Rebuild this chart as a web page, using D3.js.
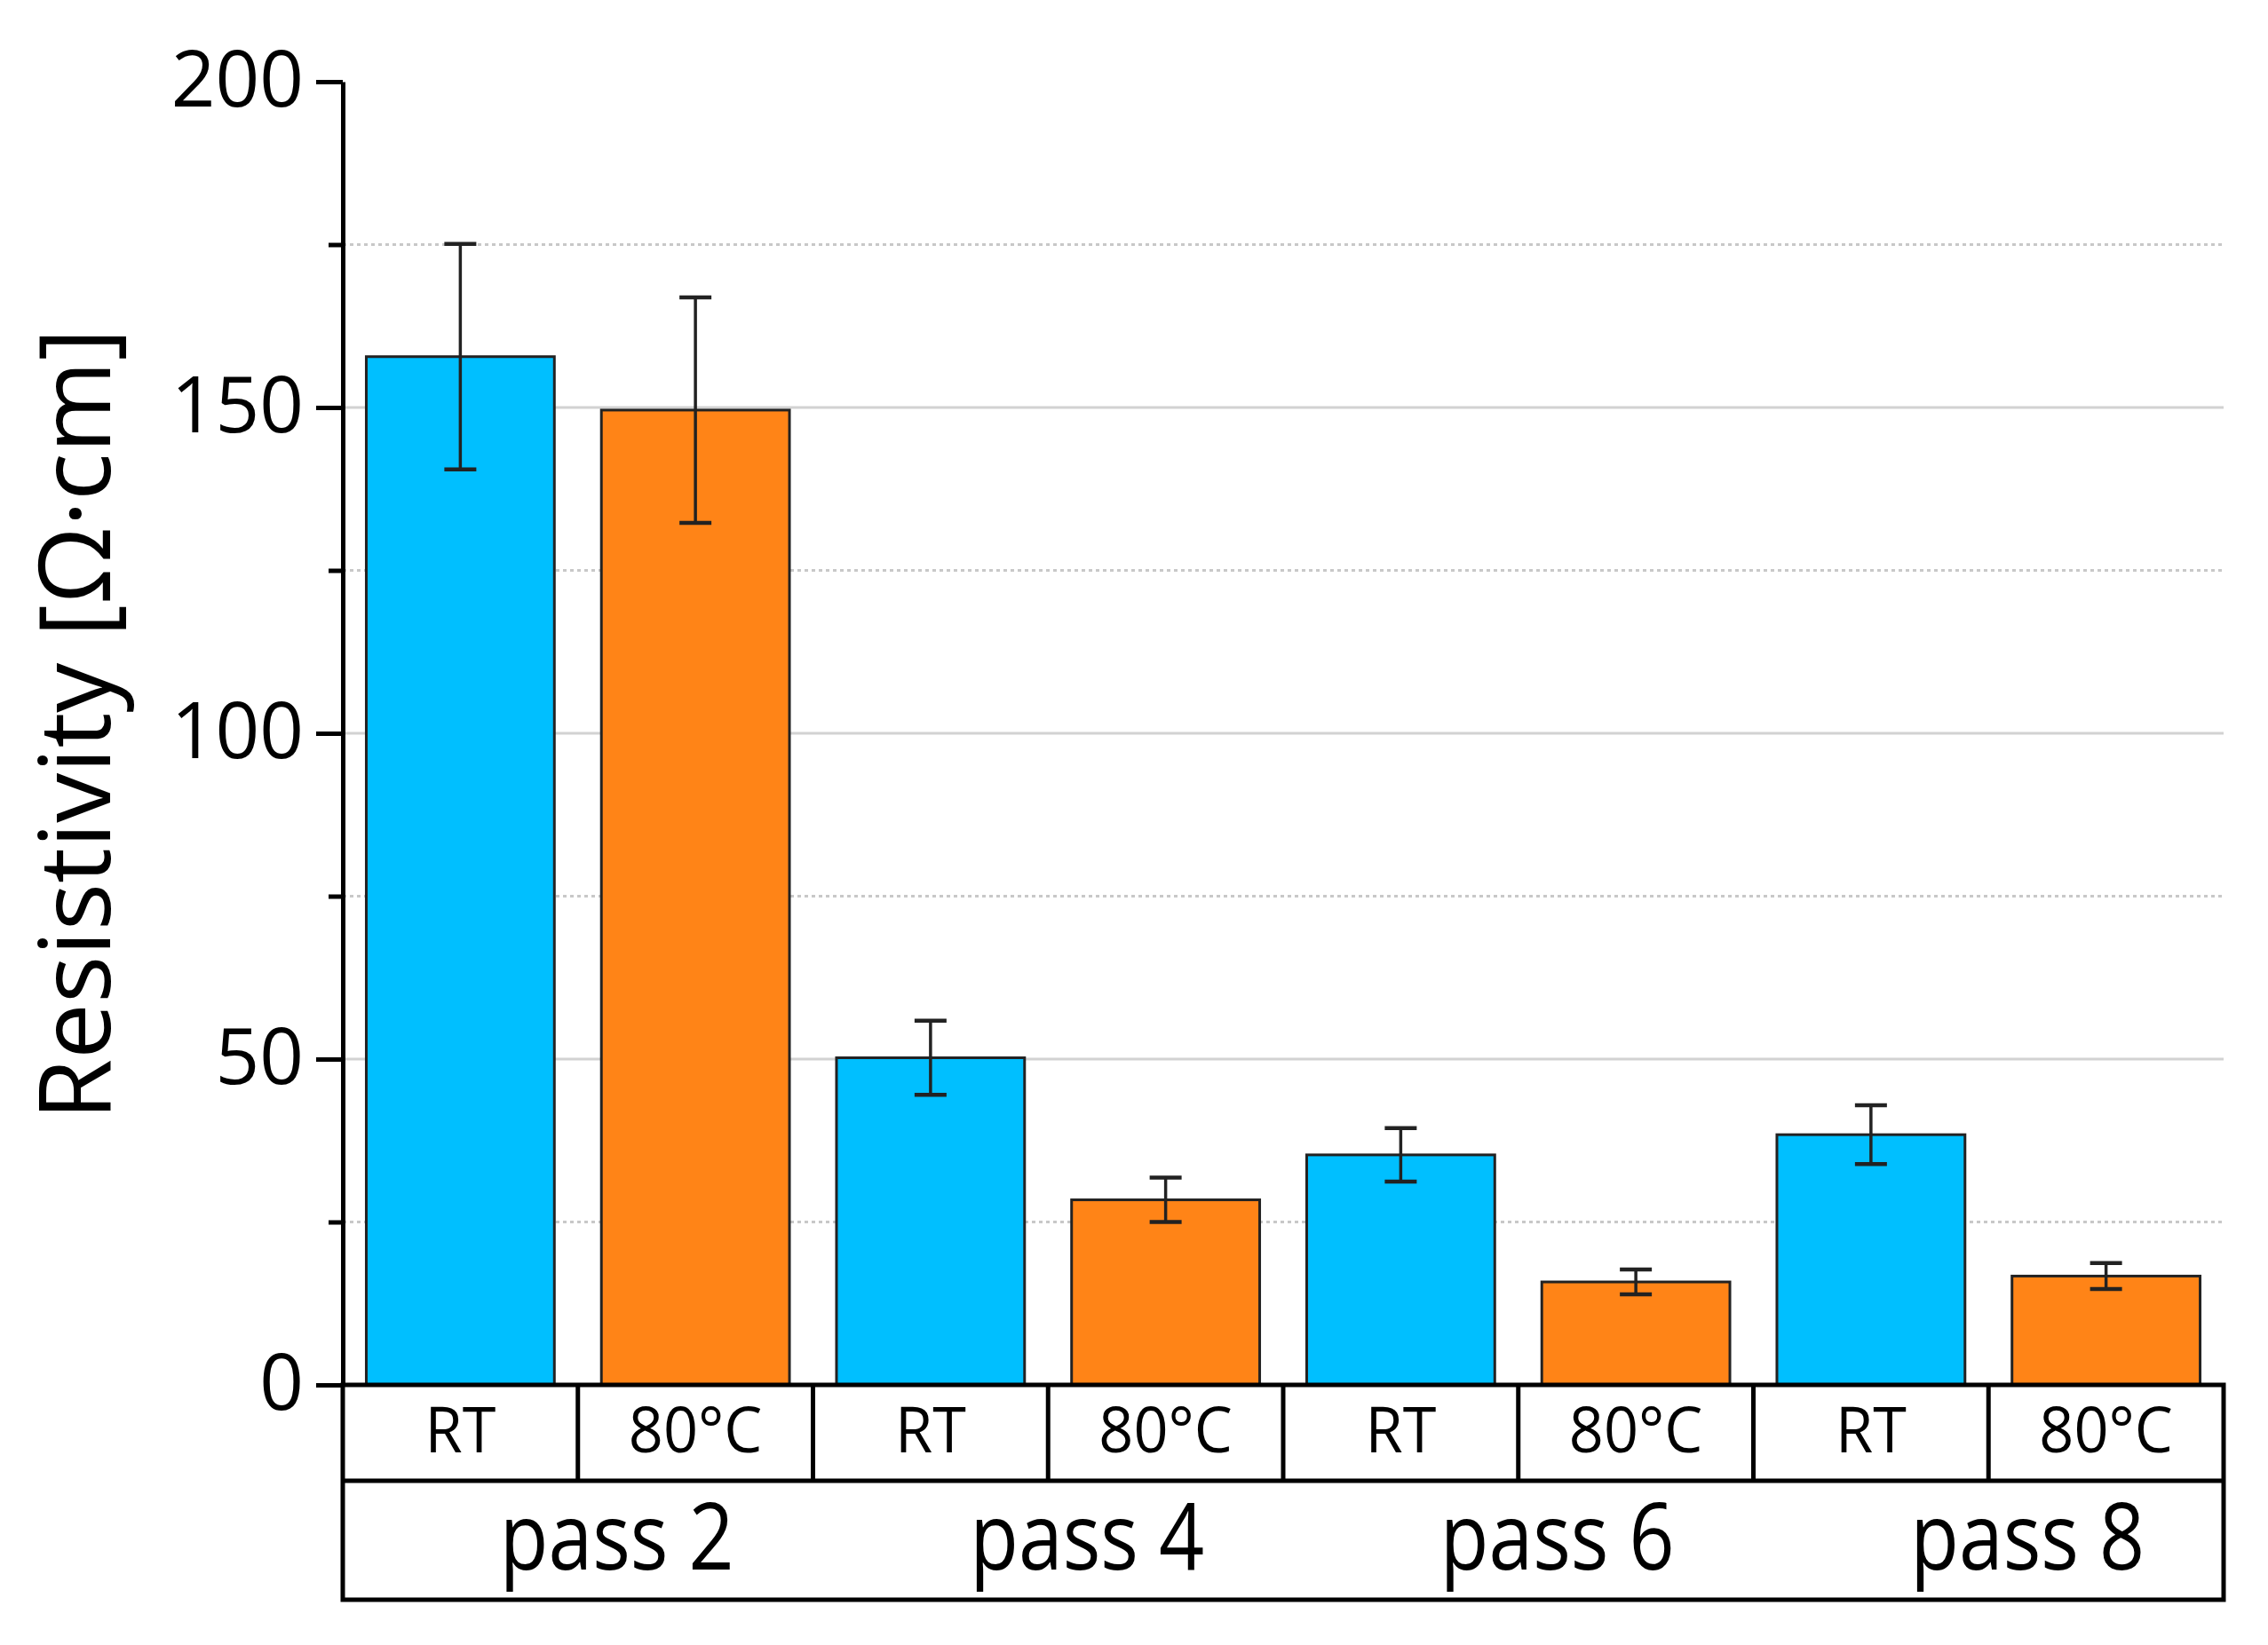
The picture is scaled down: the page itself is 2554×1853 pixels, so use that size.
<!DOCTYPE html>
<html>
<head>
<meta charset="utf-8">
<script src="https://cdn.jsdelivr.net/npm/d3@7"></script>
<style>
  html, body { margin: 0; padding: 0; background: #fff; }
  svg { display: block; }
  text { font-family: "Open Sans", "Noto Sans", sans-serif; fill: #000; }
</style>
</head>
<body>
<svg id="chart"></svg>
<script>
// values
const passes = ['pass 2', 'pass 4', 'pass 6', 'pass 8'];
const conditions = ['RT', '80°C'];
const rtValues = [157.8, 50.2, 35.3, 38.4];
const hotValues = [149.6, 28.4, 15.8, 16.7];
const rtErrors = [17.3, 5.7, 4.1, 4.5];
const hotErrors = [17.3, 3.4, 1.9, 2.0];
const majorTicks = [0, 50, 100, 150, 200];
const minorTicks = [25, 75, 125, 175];
const colors = { 'RT': '#00bfff', '80°C': '#ff8417' };

const bars = passes.flatMap((p, i) => [
    { pass: p, cond: conditions[0], value: rtValues[i], err: rtErrors[i] },
    { pass: p, cond: conditions[1], value: hotValues[i], err: hotErrors[i] }
]);
bars.forEach(d => d.key = d.pass + '|' + d.cond);

const width = 2554;
const height = 1853;
const margin = { top: 92, right: 50, bottom: 293, left: 386 };
const row1 = 108;   // height of condition row
const row2 = 134;   // height of pass row

const svg = d3.select('#chart')
    .attr('width', width)
    .attr('height', height)
    .attr('viewBox', [0, 0, width, height]);

const x = d3.scaleBand()
    .domain(bars.map(d => d.key))
    .range([margin.left, width - margin.right])
    .paddingInner(0.2)
    .paddingOuter(0.1);

const xPass = d3.scaleBand()
    .domain(passes)
    .range([margin.left, width - margin.right]);

const y = d3.scaleLinear()
    .domain([0, 200])
    .range([height - margin.bottom, margin.top]);

// grid lines
svg.append('g')
    .selectAll('line')
    .data(majorTicks.filter(t => t > 0 && t < 200))
    .join('line')
        .attr('x1', margin.left)
        .attr('x2', width - margin.right)
        .attr('y1', d => y(d))
        .attr('y2', d => y(d))
        .attr('stroke', '#d2d2d2')
        .attr('stroke-width', 3);

svg.append('g')
    .selectAll('line')
    .data(minorTicks)
    .join('line')
        .attr('x1', margin.left)
        .attr('x2', width - margin.right)
        .attr('y1', d => y(d))
        .attr('y2', d => y(d))
        .attr('stroke', '#c8c8c8')
        .attr('stroke-width', 3)
        .attr('stroke-dasharray', '4,4');

// bars
svg.append('g')
    .selectAll('rect')
    .data(bars)
    .join('rect')
        .attr('x', d => x(d.key))
        .attr('y', d => y(d.value))
        .attr('width', x.bandwidth())
        .attr('height', d => y(0) - y(d.value))
        .attr('fill', d => colors[d.cond])
        .attr('stroke', '#222')
        .attr('stroke-width', 3);

// error bars
const eb = svg.append('g')
    .attr('stroke', '#222')
    .attr('stroke-width', 3.5)
    .selectAll('g')
    .data(bars)
    .join('g')
        .attr('transform', d => `translate(${x(d.key) + x.bandwidth() / 2},0)`);

eb.append('line')
    .attr('y1', d => y(d.value + d.err))
    .attr('y2', d => y(d.value - d.err));
eb.append('line')
    .attr('x1', -18).attr('x2', 18)
    .attr('y1', d => y(d.value + d.err))
    .attr('y2', d => y(d.value + d.err))
    .attr('stroke-width', 4.5);
eb.append('line')
    .attr('x1', -18).attr('x2', 18)
    .attr('y1', d => y(d.value - d.err))
    .attr('y2', d => y(d.value - d.err))
    .attr('stroke-width', 4.5);

// y axis
const yAxis = svg.append('g')
    .attr('transform', `translate(${margin.left},0)`)
    .call(d3.axisLeft(y).tickValues(majorTicks).tickSize(30).tickPadding(14).tickSizeOuter(0))
    .call(g => g.selectAll('.tick text')
        .attr('font-size', 87)
        .attr('font-family', '"Open Sans", sans-serif'));
yAxis.select('.domain').attr('stroke', '#000').attr('stroke-width', 5);
yAxis.selectAll('.tick line').attr('stroke', '#000').attr('stroke-width', 5);

svg.append('g')
    .attr('transform', `translate(${margin.left},0)`)
    .call(d3.axisLeft(y).tickValues(minorTicks).tickSize(16).tickFormat(''))
    .call(g => g.select('.domain').remove())
    .call(g => g.selectAll('.tick line').attr('stroke', '#000').attr('stroke-width', 5));

// y title
svg.append('text')
    .attr('transform', `translate(80,${(y(0) + y(200)) / 2 - 10}) rotate(-90)`)
    .attr('text-anchor', 'middle')
    .attr('dominant-baseline', 'central')
    .attr('font-size', 112)
    .text('Resistivity [Ω·cm]');

// category table below the axis
const y0 = y(0);
const table = svg.append('g')
    .attr('fill', 'none')
    .attr('stroke', '#000')
    .attr('stroke-width', 5);

table.append('rect')
    .attr('x', margin.left)
    .attr('y', y0)
    .attr('width', width - margin.right - margin.left)
    .attr('height', row1 + row2);

table.append('line')
    .attr('x1', margin.left).attr('x2', width - margin.right)
    .attr('y1', y0 + row1).attr('y2', y0 + row1);

const step = x.step();
table.selectAll('.sep')
    .data(bars.slice(1))
    .join('line')
        .attr('class', 'sep')
        .attr('x1', d => x(d.key) - step * x.paddingInner() / 2)
        .attr('x2', d => x(d.key) - step * x.paddingInner() / 2)
        .attr('y1', y0)
        .attr('y2', y0 + row1);

svg.append('g')
    .selectAll('text')
    .data(bars)
    .join('text')
        .attr('transform', d => `translate(${x(d.key) + x.bandwidth() / 2},${y0 + row1 / 2 - 6}) scale(0.95,1)`)
        .attr('text-anchor', 'middle')
        .attr('dominant-baseline', 'central')
        .attr('font-size', 72)
        .text(d => d.cond);

svg.append('g')
    .selectAll('text')
    .data(passes)
    .join('text')
        .attr('transform', d => `translate(${xPass(d) + xPass.bandwidth() / 2 + 44},${y0 + row1 + row2 / 2 - 8}) scale(0.86,1)`)
        .attr('text-anchor', 'middle')
        .attr('dominant-baseline', 'central')
        .attr('font-size', 104)
        .text(d => d);
</script>
</body>
</html>
